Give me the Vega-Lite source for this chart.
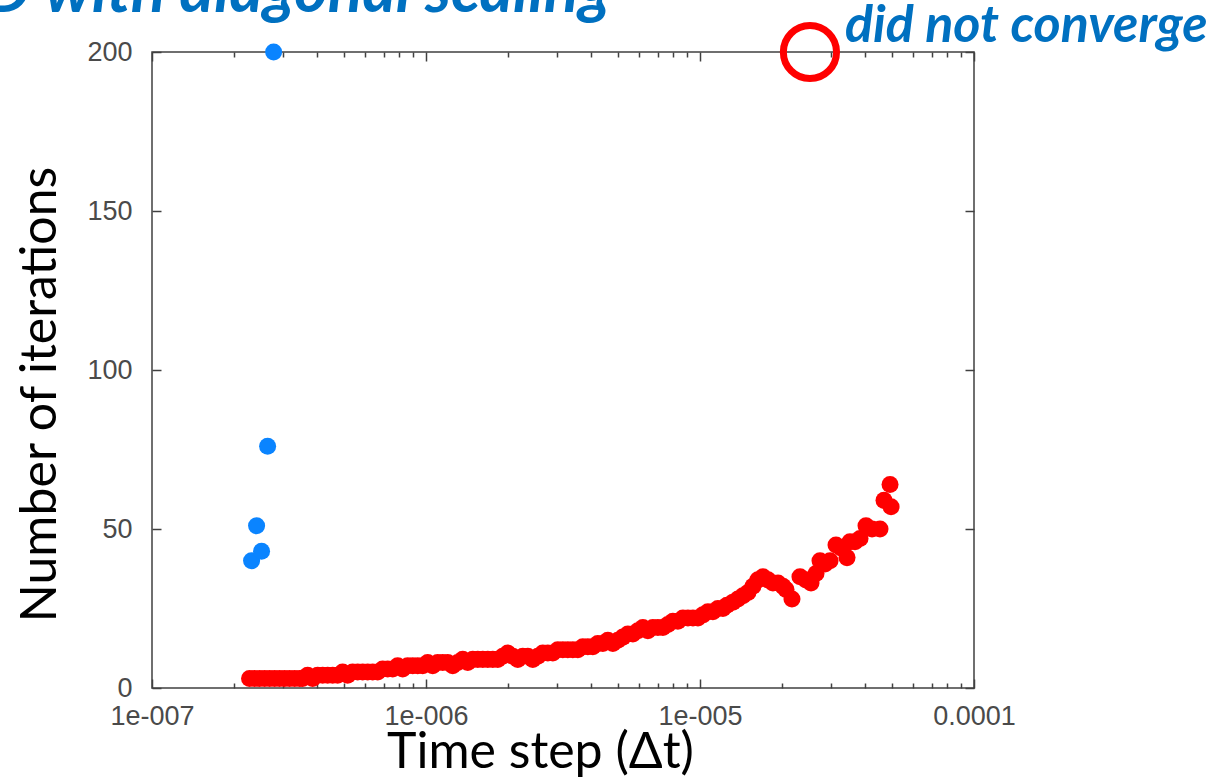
{
  "$schema": "https://vega.github.io/schema/vega-lite/v6.json",
  "width": 822,
  "height": 636,
  "autosize": "none",
  "padding": {"left": 152, "top": 52, "right": 240, "bottom": 90},
  "background": "white",
  "config": {
    "view": {"stroke": "#404040", "strokeWidth": 1.5},
    "axis": {
      "domain": false,
      "grid": false,
      "labelFont": "Liberation Sans",
      "labelFontSize": 27,
      "labelColor": "#4a4a4a",
      "tickColor": "#404040",
      "tickWidth": 1.5,
      "titleFont": "Lato",
      "titleFontWeight": "normal",
      "titleFontSize": 50,
      "titleColor": "#000000"
    }
  },
  "datasets": {
    "red": [
      {"dt": 2.270e-7, "iter": 3}, {"dt": 2.367e-7, "iter": 3}, {"dt": 2.470e-7, "iter": 3}, {"dt": 2.576e-7, "iter": 3},
      {"dt": 2.687e-7, "iter": 3}, {"dt": 2.802e-7, "iter": 3}, {"dt": 2.922e-7, "iter": 3}, {"dt": 3.047e-7, "iter": 3},
      {"dt": 3.178e-7, "iter": 3}, {"dt": 3.315e-7, "iter": 3}, {"dt": 3.457e-7, "iter": 3}, {"dt": 3.545e-7, "iter": 3},
      {"dt": 3.698e-7, "iter": 4}, {"dt": 3.857e-7, "iter": 3}, {"dt": 4.022e-7, "iter": 4}, {"dt": 4.195e-7, "iter": 4},
      {"dt": 4.375e-7, "iter": 4}, {"dt": 4.563e-7, "iter": 4}, {"dt": 4.759e-7, "iter": 4}, {"dt": 4.963e-7, "iter": 5},
      {"dt": 5.176e-7, "iter": 4}, {"dt": 5.399e-7, "iter": 5}, {"dt": 5.631e-7, "iter": 5}, {"dt": 5.873e-7, "iter": 5},
      {"dt": 6.125e-7, "iter": 5}, {"dt": 6.388e-7, "iter": 5}, {"dt": 6.662e-7, "iter": 5}, {"dt": 6.948e-7, "iter": 6},
      {"dt": 7.247e-7, "iter": 6}, {"dt": 7.558e-7, "iter": 6}, {"dt": 7.883e-7, "iter": 7}, {"dt": 8.221e-7, "iter": 6},
      {"dt": 8.575e-7, "iter": 7}, {"dt": 8.943e-7, "iter": 7}, {"dt": 9.327e-7, "iter": 7}, {"dt": 9.726e-7, "iter": 7},
      {"dt": 1.0144e-6, "iter": 8}, {"dt": 1.0580e-6, "iter": 7}, {"dt": 1.1034e-6, "iter": 8}, {"dt": 1.1508e-6, "iter": 8},
      {"dt": 1.2002e-6, "iter": 8}, {"dt": 1.2518e-6, "iter": 7}, {"dt": 1.3055e-6, "iter": 8}, {"dt": 1.3616e-6, "iter": 9},
      {"dt": 1.4201e-6, "iter": 8}, {"dt": 1.4811e-6, "iter": 9}, {"dt": 1.5447e-6, "iter": 9}, {"dt": 1.6110e-6, "iter": 9},
      {"dt": 1.6802e-6, "iter": 9}, {"dt": 1.7524e-6, "iter": 9}, {"dt": 1.8276e-6, "iter": 9}, {"dt": 1.9061e-6, "iter": 10},
      {"dt": 1.9880e-6, "iter": 11}, {"dt": 2.0734e-6, "iter": 10}, {"dt": 2.1624e-6, "iter": 9}, {"dt": 2.2553e-6, "iter": 10},
      {"dt": 2.3522e-6, "iter": 10}, {"dt": 2.4532e-6, "iter": 9}, {"dt": 2.5586e-6, "iter": 10}, {"dt": 2.6685e-6, "iter": 11},
      {"dt": 2.7831e-6, "iter": 11}, {"dt": 2.9026e-6, "iter": 11}, {"dt": 3.0273e-6, "iter": 12}, {"dt": 3.1573e-6, "iter": 12},
      {"dt": 3.2929e-6, "iter": 12}, {"dt": 3.4344e-6, "iter": 12}, {"dt": 3.5819e-6, "iter": 12}, {"dt": 3.7357e-6, "iter": 13},
      {"dt": 3.8961e-6, "iter": 13}, {"dt": 4.0635e-6, "iter": 13}, {"dt": 4.2380e-6, "iter": 14}, {"dt": 4.4200e-6, "iter": 14},
      {"dt": 4.6099e-6, "iter": 15}, {"dt": 4.8079e-6, "iter": 14}, {"dt": 5.0144e-6, "iter": 15}, {"dt": 5.2298e-6, "iter": 16},
      {"dt": 5.4544e-6, "iter": 17}, {"dt": 5.6886e-6, "iter": 17}, {"dt": 5.9329e-6, "iter": 18}, {"dt": 6.1878e-6, "iter": 19},
      {"dt": 6.4535e-6, "iter": 18}, {"dt": 6.7307e-6, "iter": 19}, {"dt": 7.0198e-6, "iter": 19}, {"dt": 7.3213e-6, "iter": 19},
      {"dt": 7.6357e-6, "iter": 20}, {"dt": 7.9637e-6, "iter": 21}, {"dt": 8.3057e-6, "iter": 21}, {"dt": 8.6624e-6, "iter": 22},
      {"dt": 9.0345e-6, "iter": 22}, {"dt": 9.4225e-6, "iter": 22}, {"dt": 9.827e-6, "iter": 22}, {"dt": 1.0247e-5, "iter": 23},
      {"dt": 1.0687e-5, "iter": 24}, {"dt": 1.1146e-5, "iter": 24}, {"dt": 1.1625e-5, "iter": 25}, {"dt": 1.2124e-5, "iter": 25},
      {"dt": 1.2539e-5, "iter": 26}, {"dt": 1.3189e-5, "iter": 27}, {"dt": 1.3755e-5, "iter": 28}, {"dt": 1.4346e-5, "iter": 29},
      {"dt": 1.4962e-5, "iter": 30}, {"dt": 1.5605e-5, "iter": 32}, {"dt": 1.6275e-5, "iter": 34}, {"dt": 1.6974e-5, "iter": 35},
      {"dt": 1.7703e-5, "iter": 34}, {"dt": 1.8463e-5, "iter": 33}, {"dt": 1.9256e-5, "iter": 33}, {"dt": 2.0083e-5, "iter": 32},
      {"dt": 2.0600e-5, "iter": 31}, {"dt": 2.166e-5, "iter": 28}, {"dt": 2.317e-5, "iter": 35}, {"dt": 2.437e-5, "iter": 34},
      {"dt": 2.542e-5, "iter": 33}, {"dt": 2.651e-5, "iter": 36}, {"dt": 2.742e-5, "iter": 40}, {"dt": 2.859e-5, "iter": 39},
      {"dt": 2.982e-5, "iter": 40}, {"dt": 3.136e-5, "iter": 45}, {"dt": 3.271e-5, "iter": 44}, {"dt": 3.440e-5, "iter": 41},
      {"dt": 3.528e-5, "iter": 46}, {"dt": 3.679e-5, "iter": 46}, {"dt": 3.837e-5, "iter": 47}, {"dt": 4.036e-5, "iter": 51},
      {"dt": 4.245e-5, "iter": 50}, {"dt": 4.539e-5, "iter": 50}, {"dt": 4.695e-5, "iter": 59}, {"dt": 4.938e-5, "iter": 64},
      {"dt": 4.980e-5, "iter": 57}
    ],
    "blue": [
      {"dt": 2.309e-7, "iter": 40},
      {"dt": 2.408e-7, "iter": 51},
      {"dt": 2.511e-7, "iter": 43},
      {"dt": 2.642e-7, "iter": 76},
      {"dt": 2.779e-7, "iter": 200}
    ],
    "nc": [
      {"dt": 2.519e-5, "iter": 200}
    ],
    "note": [
      {"dt": 3.382e-5, "iter": 203.1, "label": "did not converge", "size": 52},
      {"dt": 2.465e-8, "iter": 212.6, "label": "D with diagonal scaling", "size": 64}
    ]
  },
  "layer": [
    {
      "data": {"name": "red"},
      "mark": {"type": "point", "filled": true, "shape": "circle", "size": 290, "color": "#ff0000", "opacity": 1, "strokeWidth": 0},
      "encoding": {
        "x": {
          "field": "dt", "type": "quantitative",
          "scale": {"type": "log", "domain": [1e-7, 1e-4], "nice": false},
          "axis": {
            "orient": "bottom",
            "values": [1e-7, 2e-7, 3e-7, 4e-7, 5e-7, 6e-7, 7e-7, 8e-7, 9e-7, 1e-6, 2e-6, 3e-6, 4e-6, 5e-6, 6e-6, 7e-6, 8e-6, 9e-6, 1e-5, 2e-5, 3e-5, 4e-5, 5e-5, 6e-5, 7e-5, 8e-5, 9e-5, 1e-4],
            "labelExpr": "abs(log(datum.value)/LN10 - round(log(datum.value)/LN10)) > 0.01 ? '' : (round(log(datum.value)/LN10) == -4 ? '0.0001' : '1e-00' + abs(round(log(datum.value)/LN10)))",
            "labelOverlap": false,
            "labelBound": false,
            "labelFlush": false,
            "tickSize": {"condition": {"test": "abs(log(datum.value)/LN10 - round(log(datum.value)/LN10)) > 0.01", "value": -5}, "value": -9},
            "labelPadding": 24,
            "title": "Time step (Δt)",
            "titleX": 388,
            "titleY": 79,
            "titleBaseline": "alphabetic"
          }
        },
        "y": {
          "field": "iter", "type": "quantitative",
          "scale": {"domain": [0, 200], "nice": false},
          "axis": {
            "orient": "left",
            "values": [0, 50, 100, 150, 200],
            "tickSize": -9,
            "labelPadding": 29,
            "title": "Number of iterations",
            "titleX": -97,
            "titleY": 342,
            "titleBaseline": "alphabetic"
          }
        }
      }
    },
    {
      "data": {"name": "blue"},
      "mark": {"type": "point", "filled": true, "shape": "circle", "size": 290, "color": "#0a84ff", "opacity": 1, "strokeWidth": 0},
      "encoding": {
        "x": {
          "field": "dt", "type": "quantitative",
          "axis": {
            "orient": "top",
            "values": [1e-7, 2e-7, 3e-7, 4e-7, 5e-7, 6e-7, 7e-7, 8e-7, 9e-7, 1e-6, 2e-6, 3e-6, 4e-6, 5e-6, 6e-6, 7e-6, 8e-6, 9e-6, 1e-5, 2e-5, 3e-5, 4e-5, 5e-5, 6e-5, 7e-5, 8e-5, 9e-5, 1e-4],
            "labels": false,
            "title": null,
            "tickSize": {"condition": {"test": "abs(log(datum.value)/LN10 - round(log(datum.value)/LN10)) > 0.01", "value": -5}, "value": -9}
          }
        },
        "y": {
          "field": "iter", "type": "quantitative",
          "axis": {
            "orient": "right",
            "values": [0, 50, 100, 150, 200],
            "labels": false,
            "title": null,
            "tickSize": -9
          }
        }
      }
    },
    {
      "data": {"name": "nc"},
      "mark": {"type": "point", "filled": false, "shape": "circle", "size": 2830, "stroke": "#ff0000", "strokeWidth": 7, "opacity": 1},
      "encoding": {
        "x": {"field": "dt", "type": "quantitative", "axis": null},
        "y": {"field": "iter", "type": "quantitative", "axis": null}
      }
    },
    {
      "data": {"name": "note"},
      "mark": {"type": "text", "align": "left", "baseline": "alphabetic", "font": "Lato", "fontStyle": "italic", "fontWeight": "bold", "color": "#0070c0"},
      "encoding": {
        "x": {"field": "dt", "type": "quantitative", "axis": null},
        "y": {"field": "iter", "type": "quantitative", "axis": null},
        "text": {"field": "label"},
        "size": {"field": "size", "type": "quantitative", "scale": null, "legend": null}
      }
    }
  ]
}
